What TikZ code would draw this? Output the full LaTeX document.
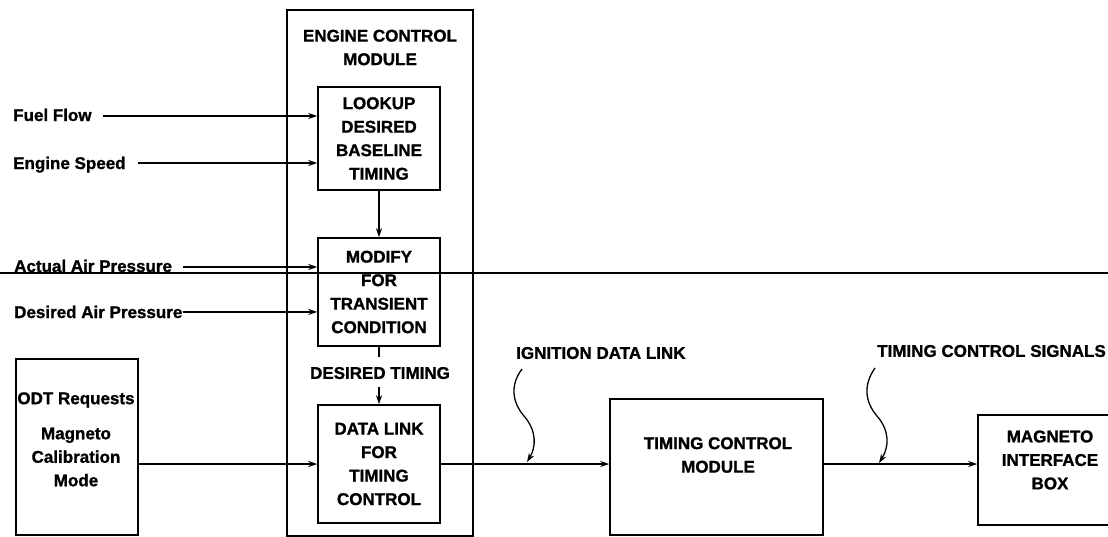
\documentclass[tikz,border=0pt]{standalone}
\usepackage{fontspec}
\setmainfont{Liberation Sans}
\newfontfamily\labfont{Liberation Sans}[FakeBold=1.2]
\usetikzlibrary{arrows.meta}
\newcommand\lab{\labfont\bfseries\fontsize{17}{23.5}\selectfont}
\begin{document}
\begin{tikzpicture}[x=1pt,y=-1pt,
  box/.style={draw,line width=1.5pt,inner sep=0pt,align=center,font=\lab},
  lbl/.style={inner sep=0pt,align=center,font=\lab},
  arr/.style={line width=1.5pt,-{Stealth[length=9pt,width=6pt]}},
  ln/.style={line width=1.5pt}]
\useasboundingbox (0,0) rectangle (1108,536);
% Engine control module
\node[box,minimum width=186,minimum height=526] (ecm) at (380,273) {};
\node[lbl] (ecmt) at (380,47.5) {ENGINE CONTROL\\MODULE};
\node[box,minimum width=122,minimum height=103] (look) at (379,138.5) {LOOKUP\\DESIRED\\BASELINE\\TIMING};
\node[box,minimum width=122,minimum height=108] (mod) at (379,292) {MODIFY\\FOR\\TRANSIENT\\CONDITION};
\node[box,minimum width=122,minimum height=118] (dl) at (379,464) {DATA LINK\\FOR\\TIMING\\CONTROL};
\node[lbl] (dt) at (380,373) {DESIRED TIMING};
% ODT box
\node[box,minimum width=122,minimum height=176] (odt) at (77,447) {};
\node[lbl] (odtr) at (76,400) {ODT Requests};
\node[lbl] (mcm) at (76,457) {Magneto\\Calibration\\Mode};
% Timing control module
\node[box,minimum width=213,minimum height=136] (tcm) at (716.5,467) {};
\node[lbl] (tcmt) at (718,455) {TIMING CONTROL\\MODULE};
% Magneto interface box
\node[box,minimum width=140,minimum height=110] (mib) at (1048,470) {};
\node[lbl] (mibt) at (1050,460) {MAGNETO\\INTERFACE\\BOX};
% link labels
\node[lbl,anchor=west] (idl) at (516,353) {IGNITION DATA LINK};
\node[lbl,anchor=east] (tcs) at (1106,351) {TIMING CONTROL SIGNALS};
% inputs
\node[lbl,anchor=base west] (ff) at (13,121) {Fuel Flow};
\node[lbl,anchor=base west] (es) at (13,169) {Engine Speed};
\node[lbl,anchor=base west] (aap) at (14,272) {Actual Air Pressure};
\node[lbl,anchor=base west] (dap) at (14,318) {Desired Air Pressure};
% connectors
\coordinate (ffs) at (103,116);
\draw[arr] (ffs) -- (ffs -| look.west);
\coordinate (ess) at (138,163);
\draw[arr] (ess) -- (ess -| look.west);
\coordinate (aaps) at (183,267);
\draw[arr] (aaps) -- (aaps -| mod.west);
\draw[arr] (dap.east) -- (dap.east -| mod.west);
\coordinate (hl0) at (0,273);
\coordinate (hl1) at (1108,273);
\draw[line width=1.2pt] (hl0) -- (hl1);
\draw[arr] (look.south) -- (mod.north);
\coordinate (t1) at (379,357);
\draw[ln] (mod.south) -- (t1);
\coordinate (t2) at (379,387);
\draw[arr] (t2) -- (dl.north);
\draw[arr] (odt.east |- dl.west) -- (dl.west);
\draw[arr] (dl.east) -- (dl.east -| tcm.west);
\draw[arr] (tcm.east |- dl.east) -- (mib.west |- dl.east);
% squiggles
\coordinate (s1a) at (522,369);
\coordinate (s1b) at (527,462);
\draw[arr,line width=1.3pt] (s1a) .. controls (510,385) and (512,402) .. (524,416) .. controls (537,431) and (536,447) .. (s1b);
\coordinate (s2a) at (875,368);
\coordinate (s2b) at (879,463);
\draw[arr,line width=1.3pt] (s2a) .. controls (863,385) and (865,402) .. (877,416) .. controls (890,431) and (889,447) .. (s2b);
\end{tikzpicture}
\end{document}
